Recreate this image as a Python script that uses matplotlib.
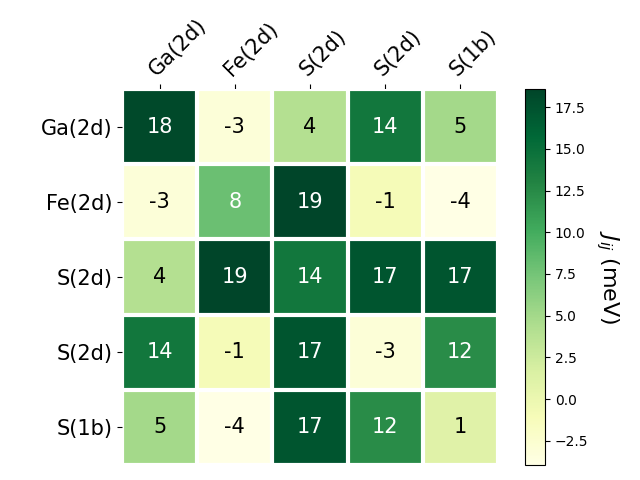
import matplotlib
matplotlib.use("Agg")
import matplotlib.pyplot as plt
import matplotlib.ticker as mticker
import numpy as np

labels = ["Ga(2d)", "Fe(2d)", "S(2d)", "S(2d)", "S(1b)"]
row0 = [18.2, -3.1, 4.0, 14.2, 5.0]
row1 = [-3.1, 8.0, 18.58, -1.0, -3.94]
row2 = [4.0, 18.58, 14.2, 17.2, 17.2]
row3 = [14.2, -1.0, 17.2, -3.0, 12.3]
row4 = [5.0, -3.94, 17.2, 12.3, 1.0]
data = np.array([row0, row1, row2, row3, row4])

fig = plt.figure(figsize=(6.4, 4.8), dpi=100)
ax = fig.add_axes([122/640, 1-465/480, 376/640, 376/480])
cax = fig.add_axes([525/640, 1-465/480, 20/640, 376/480])

im = ax.imshow(data, cmap="YlGn", aspect="auto")
cbar = fig.colorbar(im, cax=cax)
cbar.ax.yaxis.set_major_locator(mticker.MultipleLocator(2.5))
cbar.ax.set_ylabel("$J_{ij}$ (meV)", rotation=-90, va="bottom", fontsize=16)

ax.set_xticks(np.arange(len(labels)))
ax.set_yticks(np.arange(len(labels)))
ax.set_xticklabels(labels, fontsize=15)
ax.set_yticklabels(labels, fontsize=15)
ax.tick_params(top=True, bottom=False, labeltop=True, labelbottom=False)
plt.setp(ax.get_xticklabels(), rotation=45, ha="left", rotation_mode="anchor")

for s in ax.spines.values():
    s.set_visible(False)
ax.set_xticks(np.arange(len(labels)+1)-.5, minor=True)
ax.set_yticks(np.arange(len(labels)+1)-.5, minor=True)
ax.grid(which="minor", color="w", linestyle="-", linewidth=3)
ax.tick_params(which="minor", bottom=False, left=False, top=False)

norm = im.norm
threshold = norm(data.max()) / 2.
for i in range(data.shape[0]):
    for j in range(data.shape[1]):
        c = "white" if norm(data[i, j]) > threshold else "black"
        ax.text(j, i, "{:.0f}".format(data[i, j]), ha="center", va="center",
                color=c, fontsize=15)

fig.savefig("out.png", dpi=100)
